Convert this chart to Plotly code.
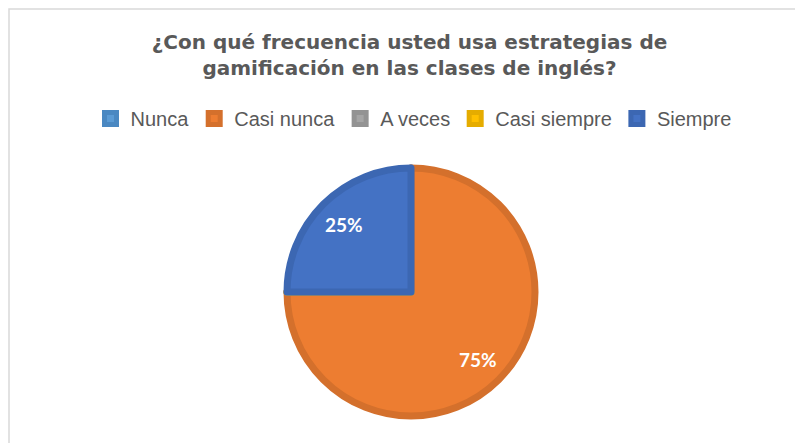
import math
import plotly.graph_objects as go

# Chart data
categories = ["Nunca", "Casi nunca", "A veces", "Casi siempre", "Siempre"]
values = [0, 75, 0, 0, 25]
slice_colors = ["#5B9BD5", "#ED7D31", "#A5A5A5", "#FFC000", "#4472C4"]
border_colors = ["#4A88C2", "#D4702C", "#939393", "#E5AC00", "#3C67B2"]

title_text = "¿Con qué frecuencia usted usa estrategias de<br>gamificación en las clases de inglés?"

W, H = 803, 443

# pie placement (pixels in figure coords)
cx_px, cy_px, half = 403, 284, 124
dom_x = [(cx_px - half) / W, (cx_px + half) / W]
dom_y = [1 - (cy_px + half) / H, 1 - (cy_px - half) / H]

fig = go.Figure(
    go.Pie(
        labels=categories,
        values=values,
        sort=False,
        direction="clockwise",
        rotation=0,
        marker=dict(colors=slice_colors, line=dict(color=border_colors, width=7)),
        textinfo="none",
        hoverinfo="label+percent",
        domain=dict(x=dom_x, y=dom_y),
    )
)

# percentage labels, placed like Excel's best fit (about 3/4 of the radius)
total = sum(values)
cum = 0
annotations = []
for v in values:
    if v > 0:
        theta = 2 * math.pi * (cum + v / 2) / total
        r = 0.75 * (half + 3)
        annotations.append(
            dict(
                x=(cx_px + r * math.sin(theta)) / W,
                y=1 - (cy_px - r * math.cos(theta)) / H,
                xref="paper",
                yref="paper",
                xanchor="center",
                yanchor="middle",
                text=f"{v / total:.0%}",
                showarrow=False,
                font=dict(family="Lato", size=19, color="white", weight="bold"),
            )
        )
    cum += v

fig.update_layout(
    width=W,
    height=H,
    margin=dict(l=0, r=0, t=0, b=0),
    paper_bgcolor="white",
    title=dict(
        text=title_text,
        x=0.5,
        xanchor="center",
        y=1 - 41 / H,
        yanchor="top",
        font=dict(family="DejaVu Sans", size=20, color="#595959", weight="bold"),
    ),
    legend=dict(
        orientation="h",
        x=0.505,
        xanchor="center",
        y=1 - 91 / H,
        yanchor="top",
        font=dict(family="Liberation Sans", size=20, color="#595959"),
        itemwidth=30,
        traceorder="normal",
    ),
    annotations=annotations,
    shapes=[
        dict(
            type="rect",
            xref="paper",
            yref="paper",
            x0=1 / W,
            x1=1.01,
            y0=-0.01,
            y1=1 - 1 / H,
            line=dict(color="#D9D9D9", width=1.5),
            fillcolor="rgba(0,0,0,0)",
        )
    ],
)

fig.write_html("out.html")
